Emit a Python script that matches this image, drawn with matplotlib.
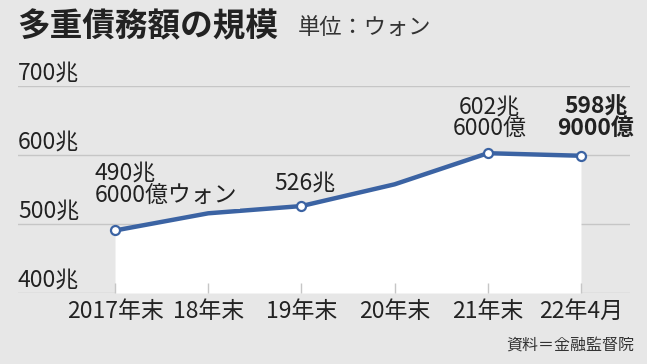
import matplotlib
matplotlib.use('Agg')
import matplotlib.pyplot as plt
import matplotlib.transforms as mtransforms

plt.rcParams['font.family'] = ['Noto Sans CJK JP', 'DejaVu Sans']

# ── data ──
periods = ['2017年末', '18年末', '19年末', '20年末', '21年末', '22年4月']
debt = [490.6, 515.5, 526.0, 557.5, 602.6, 598.9]   # 兆ウォン
marked = [0, 2, 4, 5]
y_ticks = [400, 500, 600, 700]
y_labels = ['400兆', '500兆', '600兆', '700兆']

BG = '#e7e7e7'
LINE = '#3b63a3'
GRID = '#c6c6c6'
TXT = '#222222'

fig = plt.figure(figsize=(6.47, 3.64), dpi=100)
fig.patch.set_facecolor(BG)

# axes box: px 18..630 horizontally, 86..293 vertically
ax = fig.add_axes([18 / 647, (364 - 293) / 364, 612 / 647, 207 / 364])
ax.set_facecolor(BG)
ax.set_xlim(-1.041, 5.526)
ax.set_ylim(400, 700)
for s in ax.spines.values():
    s.set_visible(False)

xs = list(range(len(periods)))

# gridlines under the fill
for v in y_ticks:
    ax.axhline(v, color=GRID, linewidth=1.0, zorder=0.5)

ax.fill_between(xs, debt, 400, color='white', linewidth=0, zorder=1)
ax.plot(xs, debt, color=LINE, linewidth=3.2, solid_capstyle='round',
        zorder=3)
ax.plot([xs[i] for i in marked], [debt[i] for i in marked], 'o',
        markersize=6.5, markerfacecolor='white', markeredgecolor=LINE,
        markeredgewidth=1.6, zorder=4)

# x ticks (short inward lines)
ax.set_xticks(xs)
ax.set_xticklabels(periods, fontsize=16.5, color=TXT)
ax.tick_params(axis='x', direction='in', length=7.5, width=1.0,
               color=GRID, pad=5)
ax.set_yticks([])

# y labels sit above their gridlines
trans = mtransforms.blended_transform_factory(ax.transAxes, ax.transData)
for v, lab in zip(y_ticks, y_labels):
    ax.text(0.0, v + 9, lab, transform=trans, ha='left', va='baseline',
            fontsize=16.5, color=TXT)

# value annotations
box = dict(facecolor=BG, edgecolor='none', pad=1.5)
ax.text(-0.215, 524.5, '490兆\n6000億ウォン', ha='left', va='bottom',
        fontsize=16.5, color=TXT, linespacing=0.95, bbox=box, zorder=5)
ax.text(2.04, 542, '526兆', ha='center', va='bottom',
        fontsize=16.5, color=TXT, zorder=5)
ax.text(4.02, 621.5, '602兆\n6000億', ha='center', va='bottom',
        fontsize=16.5, color=TXT, linespacing=0.95, zorder=5)
ax.text(5.16, 621.5, '598兆\n9000億', ha='center', va='bottom',
        fontsize=16.5, color=TXT, linespacing=0.95, fontweight='bold',
        zorder=5)

# title, unit, source
fig.text(17 / 647, 1 - 27 / 364, '多重債務額の規模', ha='left', va='center',
         fontsize=23.5, fontweight='bold', color=TXT)
fig.text(298 / 647, 1 - 28 / 364, '単位：ウォン', ha='left', va='center',
         fontsize=16, color='#333333')
fig.text(634 / 647, 1 - 345 / 364, '資料＝金融監督院', ha='right',
         va='center', fontsize=11.5, color='#333333')

fig.savefig('out.png', dpi=100, facecolor=BG)
